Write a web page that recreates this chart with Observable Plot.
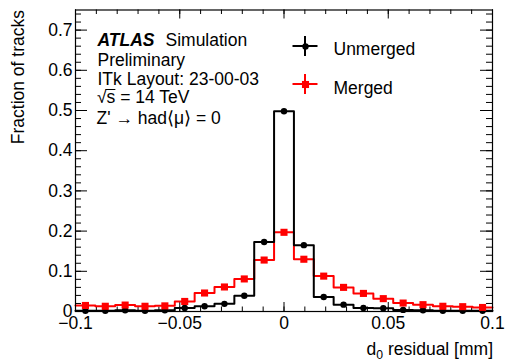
<!DOCTYPE html>
<html>
<head>
<meta charset="utf-8">
<script src="https://cdn.jsdelivr.net/npm/d3@7"></script>
<script src="https://cdn.jsdelivr.net/npm/@observablehq/plot@0.6"></script>
<style>
  html, body { margin: 0; padding: 0; background: #fff; }
  svg { font-family: "Liberation Sans", Arial, Helvetica, sans-serif; }
</style>
</head>
<body>
<div id="chart"></div>
<script>
// ---- data ----
const xDomain = [-0.1, 0.1];
const yDomain = [0, 0.75];
const unmerged = [0.002, 0.002, 0.003, 0.002, 0.003, 0.009, 0.013, 0.019, 0.039, 0.173, 0.498,
                  0.165, 0.036, 0.017, 0.009, 0.008, 0.004, 0.003, 0.002, 0.002, 0.002];
const merged   = [0.015, 0.013, 0.016, 0.013, 0.014, 0.025, 0.046, 0.061, 0.081, 0.128, 0.197,
                  0.130, 0.088, 0.060, 0.045, 0.032, 0.021, 0.017, 0.013, 0.012, 0.010];
const seriesNames = ["Unmerged", "Merged"];
const seriesColors = ["#000000", "#ff0000"];
const xTicks = [-0.1, -0.05, 0, 0.05, 0.1];
const xTickLabels = ["\u22120.1", "\u22120.05", "0", "0.05", "0.1"];
const yTicks = [0, 0.1, 0.2, 0.3, 0.4, 0.5, 0.6, 0.7];
const yTickLabels = ["0", "0.1", "0.2", "0.3", "0.4", "0.5", "0.6", "0.7"];
const xMinorStep = 0.01;
const yMinorStep = 0.02;
const xTitle = ["d", "0", " residual [mm]"];
const yTitle = "Fraction of tracks";
const infoLines = ["Preliminary", "ITk Layout: 23-00-03"];
const energyText = [" = 14 TeV"];
const processText = "Z' \u2192 had\u27E8\u03BC\u27E9 = 0";

// ---- derived tables ----
const nBins = unmerged.length;
const binW = (xDomain[1] - xDomain[0]) / nBins;
const centers = d3.range(nBins).map(i => xDomain[0] + (i + 0.5) * binW);
function stepPts(vals) {
  const pts = vals.map((v, i) => ({x: xDomain[0] + i * binW, y: v}));
  pts.push({x: xDomain[1], y: vals[vals.length - 1]});
  return pts;
}
const pointsU = unmerged.map((v, i) => ({x: centers[i], y: v}));
const pointsM = merged.map((v, i) => ({x: centers[i], y: v}));
const xMinor = d3.range(Math.round((xDomain[1] - xDomain[0]) / xMinorStep) + 1).map(i => +(xDomain[0] + i * xMinorStep).toFixed(4));
const yMinor = d3.range(Math.floor(yDomain[1] / yMinorStep + 1e-9) + 1).map(i => +(i * yMinorStep).toFixed(4));

const W = 505, H = 361;
const mL = 75, mR = 13, mT = 9.5, mB = 50;
const fw = W - mL - mR, fh = H - mT - mB;
const FS = 17.5;
const xMajLen = 9, xMinLen = 4.5, yMajLen = 12, yMinLen = 6;

const plot = Plot.plot({
  width: W, height: H,
  marginLeft: mL, marginRight: mR, marginTop: mT, marginBottom: mB,
  style: {fontFamily: '"Liberation Sans", Arial, Helvetica, sans-serif', fontSize: FS + "px", background: "#fff", overflow: "visible"},
  x: {domain: xDomain},
  y: {domain: yDomain},
  marks: [
    // inside ticks, bottom / top
    Plot.tickX(xMinor, {x: d => d, insetTop: fh - xMinLen, stroke: "#000", strokeWidth: 1}),
    Plot.tickX(xTicks, {x: d => d, insetTop: fh - xMajLen, stroke: "#000", strokeWidth: 1}),
    Plot.tickX(xMinor, {x: d => d, insetBottom: fh - xMinLen, stroke: "#000", strokeWidth: 1}),
    Plot.tickX(xTicks, {x: d => d, insetBottom: fh - xMajLen, stroke: "#000", strokeWidth: 1}),
    // inside ticks, left / right
    Plot.tickY(yMinor, {y: d => d, insetRight: fw - yMinLen, stroke: "#000", strokeWidth: 1}),
    Plot.tickY(yTicks, {y: d => d, insetRight: fw - yMajLen, stroke: "#000", strokeWidth: 1}),
    Plot.tickY(yMinor, {y: d => d, insetLeft: fw - yMinLen, stroke: "#000", strokeWidth: 1}),
    Plot.tickY(yTicks, {y: d => d, insetLeft: fw - yMajLen, stroke: "#000", strokeWidth: 1}),
    // tick labels
    Plot.axisX({ticks: xTicks, tickSize: 0, tickPadding: 5, tickFormat: d => xTickLabels[xTicks.indexOf(d)], fontSize: FS, label: null, fill: "#000"}),
    Plot.axisY({ticks: yTicks, tickSize: 0, tickPadding: 3, tickFormat: d => yTickLabels[yTicks.indexOf(d)], fontSize: FS, label: null, fill: "#000"}),
    // histograms
    Plot.line(stepPts(merged), {x: "x", y: "y", curve: "step-after", stroke: seriesColors[1], strokeWidth: 2}),
    Plot.line(stepPts(unmerged), {x: "x", y: "y", curve: "step-after", stroke: seriesColors[0], strokeWidth: 2}),
    Plot.dot(pointsU, {x: "x", y: "y", r: 3.2, fill: seriesColors[0], stroke: "none"}),
    Plot.dot(pointsM, {x: "x", y: "y", r: 4, symbol: "square", fill: seriesColors[1], stroke: "none"}),
    // frame
    Plot.frame({stroke: "#000", strokeWidth: 1.2}),
    // annotations
    Plot.text(["ATLAS"], {frameAnchor: "top-left", dx: 22, dy: 35.5, textAnchor: "start", lineAnchor: "bottom", fontWeight: "bold", fontStyle: "italic", fontSize: FS, fill: "#000"}),
    Plot.text(["Simulation"], {frameAnchor: "top-left", dx: 90, dy: 35.5, textAnchor: "start", lineAnchor: "bottom", fontSize: FS, fill: "#000"}),
    Plot.text([infoLines[0]], {frameAnchor: "top-left", dx: 22, dy: 55.5, textAnchor: "start", lineAnchor: "bottom", fontSize: FS, fill: "#000"}),
    Plot.text([infoLines[1]], {frameAnchor: "top-left", dx: 22, dy: 75, textAnchor: "start", lineAnchor: "bottom", fontSize: FS, fill: "#000"}),
    Plot.text([processText], {frameAnchor: "top-left", dx: 21, dy: 113.5, textAnchor: "start", lineAnchor: "bottom", fontSize: FS, fill: "#000"}),
    // legend
    Plot.dot([0], {frameAnchor: "top-left", dx: 230, dy: 36.5, r: 3.2, fill: seriesColors[0], stroke: "none"}),
    Plot.dot([0], {frameAnchor: "top-left", dx: 230, dy: 74.5, r: 4, symbol: "square", fill: seriesColors[1], stroke: "none"}),
    Plot.text([seriesNames[0]], {frameAnchor: "top-left", dx: 258, dy: 44.5, textAnchor: "start", lineAnchor: "bottom", fontSize: FS, fill: "#000"}),
    Plot.text([seriesNames[1]], {frameAnchor: "top-left", dx: 258, dy: 83.5, textAnchor: "start", lineAnchor: "bottom", fontSize: FS, fill: "#000"}),
    // y title
    Plot.text([yTitle], {frameAnchor: "top-left", dx: -57.5, dy: 0, rotate: -90, textAnchor: "end", lineAnchor: "middle", fontSize: FS, fill: "#000"})
  ]
});
document.getElementById("chart").appendChild(plot);

// extra pieces needing tspans / short legend bars
const svg = d3.select(plot);
const legend = [[36.5, seriesColors[0]], [74.5, seriesColors[1]]];
legend.forEach(([dy, c]) => {
  const cx = mL + 230, cy = mT + dy;
  svg.append("line").attr("x1", cx - 12.5).attr("x2", cx + 12.5).attr("y1", cy).attr("y2", cy).attr("stroke", c).attr("stroke-width", 2);
  svg.append("line").attr("x1", cx).attr("x2", cx).attr("y1", cy - 10).attr("y2", cy + 10).attr("stroke", c).attr("stroke-width", 2);
});
// √s line with radical bar
const ry = mT + 93.5, rx = mL + 22;
const rt = svg.append("text").attr("x", rx).attr("y", ry).attr("font-size", FS).attr("fill", "#000").attr("text-anchor", "start");
rt.append("tspan").text("\u221A");
rt.append("tspan").text("s");
rt.append("tspan").text(energyText[0]);
try {
  const ext = rt.node().getExtentOfChar(1);
  const ext0 = rt.node().getExtentOfChar(0);
  svg.append("line").attr("x1", ext0.x + ext0.width - 1).attr("x2", ext.x + ext.width).attr("y1", ry - 13.5).attr("y2", ry - 13.5)
    .attr("stroke", "#000").attr("stroke-width", 1);
} catch (e) {}
// x title with subscript
const xt = svg.append("text").attr("x", W - 12).attr("y", 354.5).attr("text-anchor", "end").attr("font-size", FS).attr("fill", "#000");
xt.append("tspan").text(xTitle[0]);
xt.append("tspan").attr("font-size", FS * 0.7).attr("dy", 4).text(xTitle[1]);
xt.append("tspan").attr("dy", -4).text(xTitle[2]);
</script>
</body>
</html>
